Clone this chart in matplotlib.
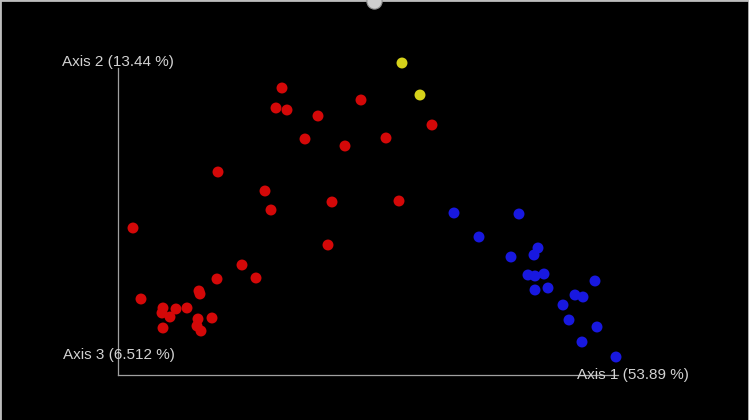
#PCoA plot (emperor style), redrawn with matplotlib

import numpy as np
import matplotlib
matplotlib.use("Agg")
import matplotlib.pyplot as plt

#Sample positions on the projected screen (x to the right, y downwards)

red_x=[282,276,287,318,361,305,345,386,432,218,265,271,332,399,328,133,
       242,217,256,199,200,141,163,176,187,162,170,198,212,163,197,201]
red_y=[88,108,110,116,100,139,146,138,125,172,191,210,202,201,245,228,
       265,279,278,291,294,299,308,309,308,313,317,319,318,328,326,331]

blue_x=[454,519,479,538,534,511,528,535,544,535,548,595,575,583,563,569,597,582,616]
blue_y=[213,214,237,248,255,257,275,276,274,290,288,281,295,297,305,320,327,342,357]

yellow_x=[402,420]
yellow_y=[63,95]

axis_labels=['Axis 1 (53.89 %)','Axis 2 (13.44 %)','Axis 3 (6.512 %)']

fig=plt.figure(figsize=(7.49,4.20),dpi=100,facecolor='black')
ax=fig.add_axes([0,0,1,1])
ax.set_facecolor('black')
ax.set_xlim(0,749)
ax.set_ylim(420,0)
ax.set_xticks([])
ax.set_yticks([])

for side in ['left','right','top']:
    ax.spines[side].set_color('#bdbdbd')
    ax.spines[side].set_linewidth(2)
ax.spines['bottom'].set_visible(False)

#axes of the ordination
ax.plot([118,118],[68,375],color='#a0a0a0',lw=0.9)
ax.plot([118,618],[375,375],color='#a0a0a0',lw=0.9)

txt=dict(color='#d2d2d2',fontsize=11,family=['Liberation Sans','DejaVu Sans'],va='center')
ax.text(577,375,axis_labels[0],**txt)
ax.text(62,62,axis_labels[1],**txt)
ax.text(63,355,axis_labels[2],**txt)

ax.scatter(red_x,red_y,s=62,color='#d40808',edgecolors='none',zorder=3)
ax.scatter(blue_x,blue_y,s=62,color='#1818e0',edgecolors='none',zorder=3)
ax.scatter(yellow_x,yellow_y,s=62,color='#d6d21a',edgecolors='none',zorder=3)

#slider knob on the top edge
ax.scatter([374],[1],s=120,color='#cfcfcf',edgecolors='#909090',linewidths=0.8,zorder=4,clip_on=False)

fig.savefig('out.png',dpi=100,facecolor='black')
